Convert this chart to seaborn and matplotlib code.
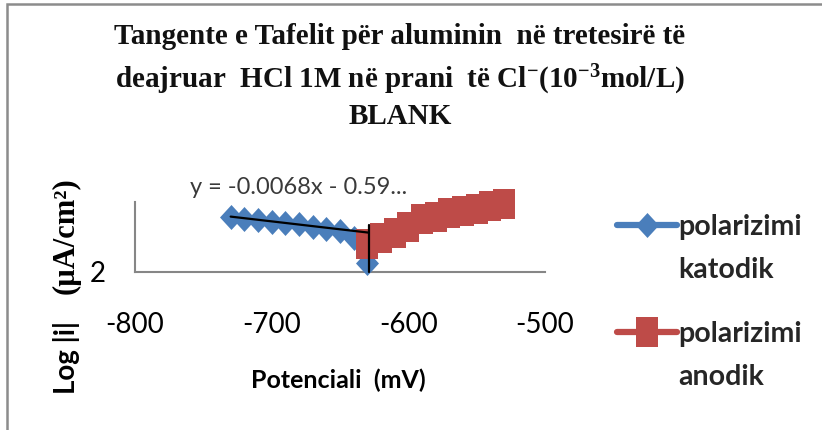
import matplotlib
matplotlib.use('Agg')
import matplotlib.pyplot as plt
import seaborn as sns
from matplotlib.lines import Line2D
from matplotlib.patches import Rectangle

# ---- data ----
cat_E = [-730, -720, -710, -700, -690, -680, -670, -660, -650, -640, -630]
cat_logi = [4.37, 4.29, 4.23, 4.16, 4.10, 4.04, 3.95, 3.86, 3.74, 3.46, 2.39]
an_E = [-630, -620, -610, -600, -590, -580, -570, -560, -550, -540, -530]
an_logi = [3.22, 3.46, 3.69, 3.95, 4.27, 4.36, 4.53, 4.61, 4.72, 4.83, 4.91]
trend_slope = -0.0068
trend_intercept = -0.59
trend_E = [-730, -629]
ecorr_E = [-629, -629]
ecorr_logi = [2.0, 4.0]
x_ticks = [-800, -700, -600, -500]
y_ticks = [2]
title_lines = ["Tangente e Tafelit për aluminin  në tretesirë të",
               "deajruar  HCl 1M në prani  të Cl$^{-}$(10$^{-3}$mol/L)",
               "BLANK"]
legend_labels = [("polarizimi", "katodik"), ("polarizimi", "anodik")]
equation_text = "y = -0.0068x - 0.59..."

sns.set_theme(style="white")
plt.rcParams['font.family'] = ['Lato', 'DejaVu Sans']
plt.rcParams['mathtext.fontset'] = 'custom'
plt.rcParams['mathtext.rm'] = 'Liberation Serif:bold'
plt.rcParams['mathtext.it'] = 'Liberation Serif:bold'
plt.rcParams['mathtext.bf'] = 'Liberation Serif:bold'
plt.rcParams['mathtext.default'] = 'rm'

W, H = 822, 430
fig = plt.figure(figsize=(W / 100, H / 100), dpi=100)
fig.patch.set_facecolor('white')

def fx(px):
    return px / W

def fy(py):
    return 1 - py / H

# outer chart-area border (only top and left visible)
fig.add_artist(Rectangle((fx(7), -0.2), 1.5, fy(4) + 0.2, transform=fig.transFigure,
                         fill=False, edgecolor='#8c8c8c', lw=1.8))

ax = fig.add_axes([fx(135), fy(272), fx(545) - fx(135), fy(202) - fy(272)])
ax.set_facecolor('white')

blue = '#4A7EBB'
red = '#BE4B48'
diamond = [(0, -0.5), (0.46, 0), (0, 0.5), (-0.46, 0), (0, -0.5)]
rect = [(-0.39, -0.5), (0.39, -0.5), (0.39, 0.5), (-0.39, 0.5), (-0.39, -0.5)]
ms_d = 18
ms_s = 21

sns.lineplot(x=cat_E, y=cat_logi, ax=ax, color=blue, lw=4.5, marker=diamond,
             markersize=ms_d, markeredgewidth=0, markerfacecolor=blue, clip_on=False,
             zorder=3, estimator=None, sort=False)
sns.lineplot(x=an_E, y=an_logi, ax=ax, color=red, lw=4.5, marker=rect,
             markersize=ms_s, markeredgewidth=0, markerfacecolor=red, clip_on=False,
             zorder=4, estimator=None, sort=False)
trend_logi = [trend_slope * e + trend_intercept for e in trend_E]
ax.plot(trend_E, trend_logi, color='black', lw=1.6, zorder=5, clip_on=False)
ax.plot(ecorr_E, ecorr_logi, color='black', lw=1.6, zorder=5, clip_on=False)

ax.text(-680, 5.62, equation_text, ha='center', va='center',
        fontsize=17, color='#3a3a3a')

ax.set_xlim(-800, -500)
ax.set_ylim(2, 5)
ax.set_xticks(x_ticks)
ax.set_xticklabels([str(t) for t in x_ticks])
ax.set_yticks(y_ticks)
ax.set_yticklabels([str(t) for t in y_ticks])
ax.tick_params(axis='x', length=0, pad=29, labelsize=20, labelcolor='black')
ax.tick_params(axis='y', length=0, pad=21, labelsize=20, labelcolor='black')
for s in ['top', 'right']:
    ax.spines[s].set_visible(False)
for s in ['left', 'bottom']:
    ax.spines[s].set_color('#868686')
    ax.spines[s].set_linewidth(1.5)
ax.set_xlabel("")
ax.set_ylabel("")

# axis titles
fig.text(fx(338), fy(380), "Potenciali  (mV)", ha='center', va='center',
         fontsize=18, fontweight='bold', color='black')
fig.text(fx(66), fy(358), "Log |i|", ha='center', va='center', rotation=90,
         fontsize=20, fontweight='bold', color='black')
fig.text(fx(66), fy(236), "(\u00b5A/cm\u00b2)", ha='center', va='center', rotation=90,
         fontsize=22, fontweight='bold', color='black',
         family=['Liberation Serif', 'DejaVu Serif'])

# title
for txt, py in zip(title_lines, [37, 80, 117]):
    fig.text(fx(400), fy(py), txt, ha='center', va='center', fontsize=21,
             fontweight='bold', color='#111111',
             family=['Liberation Serif', 'DejaVu Serif'])

# legend
h_blue = Line2D([], [], color=blue, lw=4.5, marker=diamond, markersize=ms_d,
                markeredgewidth=0)
h_red = Line2D([], [], color=red, lw=4.5, marker=rect, markersize=ms_s,
               markeredgewidth=0)
blank = Line2D([], [], linestyle='none')
for handle, (l1, l2), py in zip([h_blue, h_red], legend_labels, [214, 321]):
    fig.legend(handles=[handle, blank], labels=[l1, l2], loc='upper left',
               bbox_to_anchor=(fx(617), fy(py)), frameon=False,
               prop={'family': ['Lato', 'DejaVu Sans'], 'weight': 'bold', 'size': 20.5},
               handlelength=2.1, handletextpad=0.05, labelspacing=0.6,
               borderpad=0, borderaxespad=0)

fig.savefig('out.png', dpi=100)
